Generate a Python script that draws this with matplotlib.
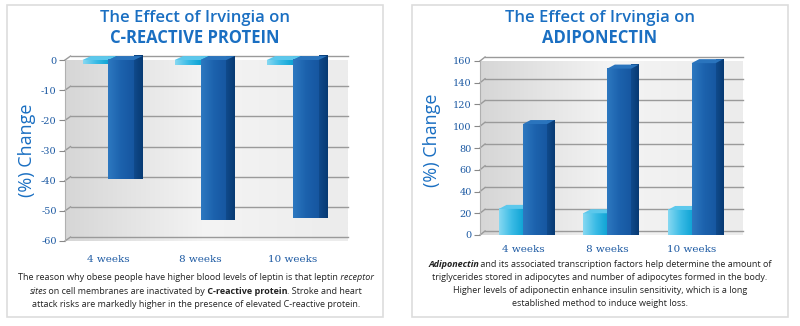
import matplotlib
matplotlib.use("Agg")
import matplotlib.pyplot as plt
import numpy as np
from matplotlib.patches import Polygon, FancyBboxPatch
from matplotlib.colors import LinearSegmentedColormap

# ---------------- data ----------------
categories = ["4 weeks", "8 weeks", "10 weeks"]
crp_placebo = [-1.2, -1.5, -1.5]
crp_irvingia = [-39.5, -53.0, -52.5]
crp_ticks = [0, -10, -20, -30, -40, -50, -60]
adipo_placebo = [24, 20, 23]
adipo_irvingia = [102, 153, 158]
adipo_ticks = [0, 20, 40, 60, 80, 100, 120, 140, 160]

title_color = "#1a6fc2"
tick_color = "#1d5aa3"
dark_front = LinearSegmentedColormap.from_list("df", ["#2d78c0", "#1c62ad", "#1656a0"])
dark_side = LinearSegmentedColormap.from_list("ds", ["#104a8c", "#073a72"])
dark_top = "#2a74bd"
light_front = LinearSegmentedColormap.from_list("lf", ["#86d8f2", "#3cbce6", "#0ea3d4"])
light_side = LinearSegmentedColormap.from_list("ls", ["#1695c4", "#0b7fb0"])
light_top = "#5cc8ec"
cap_color = "#222222"
SANS = "Open Sans"
HGRAD = np.linspace(0, 1, 64).reshape(1, -1)

fig = plt.figure(figsize=(8, 3.26), dpi=100)
fig.patch.set_facecolor("white")

# panel boxes
for x0 in (7 / 800, 412 / 800):
    fig.patches.append(FancyBboxPatch((x0, 9 / 326), 376 / 800, 312 / 326,
                                      boxstyle="square,pad=0", transform=fig.transFigure,
                                      facecolor="white", edgecolor="#dddddd", lw=1.2, zorder=-5))


def grad_poly(ax, verts, cmap, z):
    poly = Polygon(verts, closed=True, facecolor="none", edgecolor="none", zorder=z,
                   clip_on=False)
    ax.add_patch(poly)
    xs = [p[0] for p in verts]
    ys = [p[1] for p in verts]
    im = ax.imshow(HGRAD, cmap=cmap, aspect="auto", zorder=z,
                   extent=[min(xs), max(xs), min(ys), max(ys)], clip_on=False)
    im.set_clip_path(poly)


def bar3d(ax, x, w, v, front, side, top, dx, dy, z):
    xl = x - w / 2
    x1 = x + w / 2
    grad_poly(ax, [(xl, 0), (x1, 0), (x1, v), (xl, v)], front, z)
    grad_poly(ax, [(x1, 0), (x1 + dx, dy), (x1 + dx, v + dy), (x1, v)], side, z)
    ytop = max(v, 0)
    ax.add_patch(Polygon([(xl, ytop), (xl + dx, ytop + dy), (x1 + dx, ytop + dy), (x1, ytop)],
                         closed=True, facecolor=top, edgecolor="none", zorder=z,
                         clip_on=False))


def setup_axes(rect, ticks, xlim, ylim, dy, xpad):
    ax = fig.add_axes(rect)
    ax.imshow(np.linspace(0, 1, 256).reshape(1, -1),
              cmap=LinearSegmentedColormap.from_list("w", ["#d6d6d6", "#f4f4f4", "#ececec"]),
              aspect="auto", extent=[xlim[0], xlim[1], ylim[0], ylim[1]], zorder=0)
    dx0 = 0.06
    for t in ticks:
        ax.plot([xlim[0] + dx0, xlim[1]], [t + dy, t + dy], color="#9a9a9a", lw=1.0, zorder=1,
                clip_on=False)
        ax.plot([xlim[0], xlim[0] + dx0], [t, t + dy], color="#9a9a9a", lw=1.0, zorder=1,
                clip_on=False)
    for s in ax.spines.values():
        s.set_visible(False)
    ax.spines["left"].set_visible(True)
    ax.spines["left"].set_color("#b0b0b0")
    ax.set_yticks(ticks)
    ax.set_yticklabels([str(t) for t in ticks], color=tick_color,
                       fontfamily="DejaVu Serif", fontsize=7)
    ax.tick_params(axis="y", length=4, color="#888888", pad=2)
    ax.set_xticks(range(len(categories)))
    ax.set_xticklabels(categories, color=tick_color, fontfamily="DejaVu Serif",
                       fontsize=7.5)
    ax.tick_params(axis="x", length=0, pad=xpad)
    return ax


# ---------- left panel ----------
w = 0.28
xlimL, ylimL = (-0.47, 2.6), (-60, 0)
axL = setup_axes([65 / 800, 85 / 326, 283 / 800, 181 / 326], crp_ticks, xlimL, ylimL, 1.3, 10)
for i, (p, v) in enumerate(zip(crp_placebo, crp_irvingia)):
    bar3d(axL, i - w / 2, w, p, light_front, light_side, light_top, 0.09, 1.3, 3)
    bar3d(axL, i + w / 2, w, v, dark_front, dark_side, dark_top, 0.09, 1.3, 4)
axL.set_xlim(*xlimL)
axL.set_ylim(*ylimL)

# ---------- right panel ----------
w2 = 0.285
xlimR, ylimR = (-0.51, 2.61), (0, 160)
axR = setup_axes([480 / 800, 91 / 326, 263 / 800, 174 / 326], adipo_ticks, xlimR, ylimR, 3.7, 7)
for i, (p, v) in enumerate(zip(adipo_placebo, adipo_irvingia)):
    bar3d(axR, i - w2 / 2, w2, p, light_front, light_side, light_top, 0.09, 3.7, 3)
    bar3d(axR, i + w2 / 2, w2, v, dark_front, dark_side, dark_top, 0.09, 3.7, 4)
axR.set_xlim(*xlimR)
axR.set_ylim(*ylimR)

# titles
TFS = 12
for xc, sub in ((195 / 800, "C-REACTIVE PROTEIN"), (600 / 800, "ADIPONECTIN")):
    fig.text(xc, 1 - 18 / 326, "The Effect of Irvingia on", ha="center", va="center",
             color=title_color, fontsize=TFS, fontfamily=SANS, fontweight="semibold")
    fig.text(xc, 1 - 38 / 326, sub, ha="center", va="center",
             color=title_color, fontsize=TFS, fontfamily=SANS, fontweight="bold")

# y labels
fig.text(27 / 800, 1 - 150 / 326, "(%) Change", rotation=90, ha="center", va="center",
         color=title_color, fontsize=13, fontfamily=SANS)
fig.text(432 / 800, 1 - 140 / 326, "(%) Change", rotation=90, ha="center", va="center",
         color=title_color, fontsize=13, fontfamily=SANS)

# captions with mixed styles (runs chained one after another)
renderer = fig.canvas.get_renderer()
CAP_FS = 6.5
ITAL_FIX = -0.9  # points: tighten the gap after an italic run


def rich_line(ax, xc, ypx, runs):
    yf = 1 - ypx / 326
    texts = []
    prev = None
    prev_style = None
    shift = 0.0
    for s, st, wt in runs:
        kw = dict(fontsize=CAP_FS, fontfamily=SANS, fontstyle=st, fontweight=wt,
                  color=cap_color, ha="left", va="baseline")
        if prev is None:
            t = fig.text(0, yf, s, **kw)
        else:
            off = ITAL_FIX if prev_style == "italic" else 0.0
            shift += off * 100 / 72
            t = ax.annotate(s, xy=(1, yf), xycoords=(prev, "figure fraction"),
                            xytext=(off, 0), textcoords="offset points",
                            annotation_clip=False, **kw)
        texts.append(t)
        prev = t
        prev_style = st
    total = sum(t.get_window_extent(renderer).width for t in texts) + shift
    texts[0].set_x((xc * 800 - total / 2) / 800)


N, I, B = "normal", "italic", "bold"
left_lines = [
    [("The reason why obese people have higher blood levels of leptin is that leptin", N, N),
     (" receptor", I, N)],
    [("sites", I, N), (" on cell membranes are inactivated by", N, N),
     (" C-reactive protein", N, B), (". Stroke and heart", N, N)],
    [("attack risks are markedly higher in the presence of elevated C-reactive protein.", N, N)],
]
right_lines = [
    [("Adiponectin", I, B),
     (" and its associated transcription factors help determine the amount of", N, N)],
    [("triglycerides stored in adipocytes and number of adipocytes formed in the body.", N, N)],
    [("Higher levels of adiponectin enhance insulin sensitivity, which is a long", N, N)],
    [("established method to induce weight loss.", N, N)],
]
for k, ln in enumerate(left_lines):
    rich_line(axL, 196 / 800, 280 + 13.5 * k, ln)
for k, ln in enumerate(right_lines):
    rich_line(axR, 600 / 800, 267 + 13 * k, ln)

fig.savefig("out.png", dpi=100)
